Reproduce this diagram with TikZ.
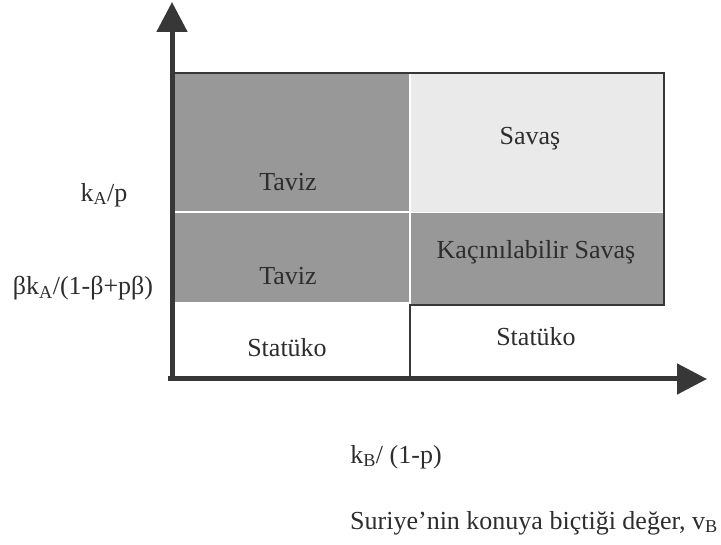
\documentclass[tikz,border=0pt]{standalone}
\usepackage{fontspec}
\setmainfont{Liberation Serif}
\usetikzlibrary{arrows.meta}
\definecolor{ink}{RGB}{45,45,45}
\definecolor{darkshade}{RGB}{152,152,152}
\definecolor{lightshade}{RGB}{234,234,234}
\definecolor{linegray}{RGB}{55,55,55}
\begin{document}
\begin{tikzpicture}[x=1pt,y=-1pt,
  lbl/.style={font=\fontsize{26}{30}\selectfont, text=ink, inner sep=0pt},
  axisline/.style={draw=linegray, line width=5pt, -{Triangle[length=30pt,width=30pt]}},
  frameline/.style={draw=linegray, line width=2.5pt}]
\useasboundingbox (0,0) rectangle (721,545);
% shaded regions
\fill[darkshade] (171,73) rectangle (409,302);
\fill[darkshade] (411,213) rectangle (664,305);
\fill[lightshade] (411,73) rectangle (664,212);
\draw[white, line width=2pt] (171,212) -- (409,212);
% frame lines
\coordinate (tl) at (171,73);
\coordinate (tr) at (664,73);
\coordinate (br) at (664,305);
\coordinate (bm) at (410,305);
\coordinate (bx) at (410,379);
\draw[frameline] (tl) -- (tr) -- (br) -- (bm) -- (bx);
% axes
\coordinate (O) at (172,379);
\coordinate (Ox) at (168,379);
\coordinate (ytip) at (172,2);
\coordinate (xtip) at (707,379);
\draw[axisline] (O) -- (ytip);
\draw[axisline] (Ox) -- (xtip);
% region labels
\node[lbl] (taviz1) at (288,182) {Taviz};
\node[lbl] (taviz2) at (288,276) {Taviz};
\node[lbl] (savas) at (530,139) {Savaş};
\node[lbl] (kacin) at (536,252) {Kaçınılabilir Savaş};
\node[lbl] (stat1) at (287,348) {Statüko};
\node[lbl] (stat2) at (536,337) {Statüko};
% axis labels
\node[lbl] (ka) at (104,195) {k\textsubscript{A}/p};
\node[lbl] (bka) at (83,288) {βk\textsubscript{A}/(1-β+pβ)};
\node[lbl] (kb) at (396,457) {k\textsubscript{B}/ (1-p)};
\node[lbl] (xlab) at (534,523) {Suriye’nin konuya biçtiği değer, v\textsubscript{B}};
\end{tikzpicture}
\end{document}
